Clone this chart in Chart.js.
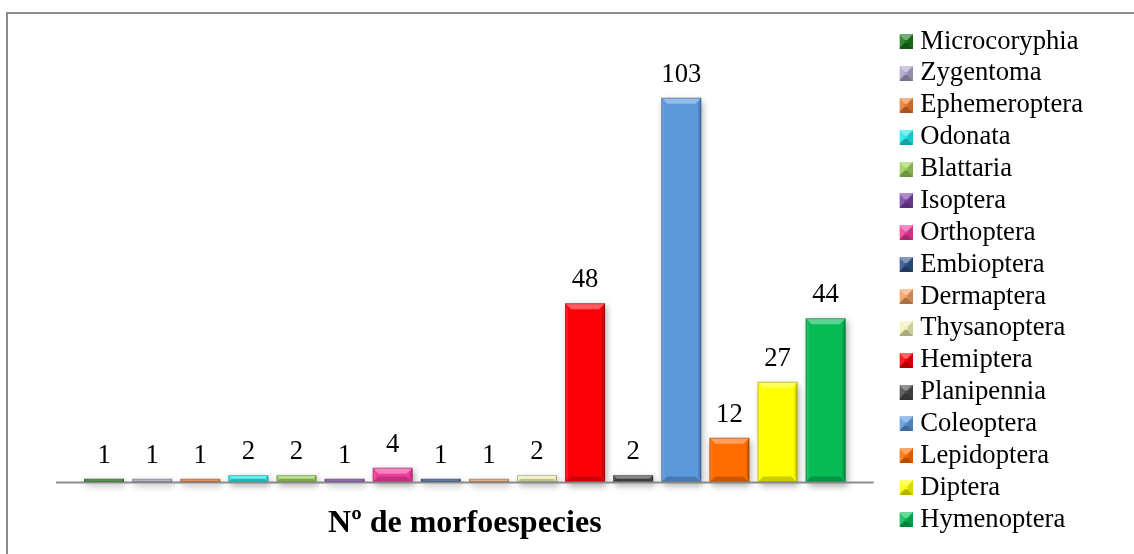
<!DOCTYPE html>
<html lang="es">
<head>
<meta charset="utf-8">
<title>Nº de morfoespecies</title>
<script src="https://cdn.jsdelivr.net/npm/chart.js@4.4.0/dist/chart.umd.min.js"></script>
<style>
  html, body { margin: 0; padding: 0; background: #fff; }
  #marco { position: absolute; left: 6px; top: 12px; width: 1128px; height: 542px; border-top: 2px solid #8c8c8c; border-left: 2px solid #8c8c8c; box-sizing: border-box; }
  #contenedor { position: absolute; left: 0; top: 0; width: 1134px; height: 554px; }
</style>
</head>
<body>
<div id="marco"></div>
<div id="contenedor"><canvas id="myChart"></canvas></div>
<script>
const ordenes = ['Microcoryphia', 'Zygentoma', 'Ephemeroptera', 'Odonata', 'Blattaria', 'Isoptera',
  'Orthoptera', 'Embioptera', 'Dermaptera', 'Thysanoptera', 'Hemiptera', 'Planipennia',
  'Coleoptera', 'Lepidoptera', 'Diptera', 'Hymenoptera'];
const morfoespecies = [1, 1, 1, 2, 2, 1, 4, 1, 1, 2, 48, 2, 103, 12, 27, 44];
const colores = ['#1c781c', '#b0a4c8', '#ec7a30', '#20e8ea', '#9bd05c', '#7a44a8',
  '#f03c9c', '#2f5488', '#f0a060', '#f2f2b4', '#fc0008', '#4a4a4a',
  '#5b98dc', '#ff6c00', '#ffff00', '#06ba55'];
const titulo = 'Nº de morfoespecies';
const yMax = 123;

const fuente = '"Liberation Serif", "Times New Roman", serif';

// mezcla un color hex con otro (t entre 0 y 1)
function mezclar(hex, otro, t) {
  var a = parseInt(hex.slice(1), 16), b = parseInt(otro.slice(1), 16);
  var r = Math.round(((a >> 16) & 255) * (1 - t) + ((b >> 16) & 255) * t);
  var g = Math.round(((a >> 8) & 255) * (1 - t) + ((b >> 8) & 255) * t);
  var bl = Math.round((a & 255) * (1 - t) + (b & 255) * t);
  return 'rgb(' + r + ', ' + g + ', ' + bl + ')';
}

function poligono(ctx, pts, color) {
  ctx.beginPath();
  ctx.moveTo(pts[0][0], pts[0][1]);
  for (var i = 1; i < pts.length; i++) ctx.lineTo(pts[i][0], pts[i][1]);
  ctx.closePath();
  ctx.fillStyle = color;
  ctx.fill();
}

// cuadradito de la leyenda con efecto piramide
function marcador(color) {
  const c = document.createElement('canvas');
  c.width = 15; c.height = 15;
  const g = c.getContext('2d');
  const s = 15, m = 6;
  g.fillStyle = color;
  g.fillRect(0, 0, s, s);
  poligono(g, [[0, 0], [s, 0], [s - m, m], [m, m]], mezclar(color, '#ffffff', 0.4));
  poligono(g, [[0, s], [s, s], [s - m, s - m], [m, s - m]], mezclar(color, '#000000', 0.3));
  poligono(g, [[0, 0], [m, m], [m, s - m], [0, s]], mezclar(color, '#ffffff', 0.12));
  poligono(g, [[s, 0], [s - m, m], [s - m, s - m], [s, s]], mezclar(color, '#000000', 0.15));
  return c;
}
const marcadores = colores.map(marcador);

const pluginBisel = {
  id: 'bisel',
  beforeDatasetsDraw(chart) {
    const ctx = chart.ctx;
    ctx.save();
    ctx.shadowColor = 'rgba(0, 0, 0, 0.35)';
    ctx.shadowBlur = 7;
    ctx.shadowOffsetX = 2;
    ctx.shadowOffsetY = 3;
  },
  afterDatasetsDraw(chart) {
    const ctx = chart.ctx;
    ctx.restore();
    const area = chart.chartArea;
    const y0 = chart.scales.y.getPixelForValue(0);

    const meta = chart.getDatasetMeta(0);
    meta.data.forEach(function (bar, i) {
      const p = bar.getProps(['x', 'y', 'base', 'width'], true);
      const l = p.x - p.width / 2, r = p.x + p.width / 2, t = p.y, bt = p.base;
      const b = Math.min(6, (bt - t) / 2, p.width / 2);
      poligono(ctx, [[l, t], [r, t], [r - b, t + b], [l + b, t + b]], 'rgba(255, 255, 255, 0.35)');
      poligono(ctx, [[l, bt], [r, bt], [r - b, bt - b], [l + b, bt - b]], 'rgba(0, 0, 0, 0.2)');
      poligono(ctx, [[l, t], [l + b * 0.5, t + b], [l + b * 0.5, bt - b], [l, bt]], 'rgba(255, 255, 255, 0.1)');
      poligono(ctx, [[r, t], [r - b * 0.5, t + b], [r - b * 0.5, bt - b], [r, bt]], 'rgba(0, 0, 0, 0.15)');
      ctx.strokeStyle = 'rgba(0, 0, 0, 0.25)';
      ctx.lineWidth = 1;
      ctx.strokeRect(l + 0.5, t + 0.5, p.width - 1, bt - t - 1);

      // etiqueta del valor
      ctx.fillStyle = '#000';
      ctx.font = '26.67px ' + fuente;
      ctx.textAlign = 'center';
      ctx.textBaseline = 'alphabetic';
      ctx.fillText(String(morfoespecies[i]), p.x, t - 16);
    });

    // linea base del eje
    ctx.beginPath();
    ctx.moveTo(area.left - 24, y0);
    ctx.lineTo(area.right + 24, y0);
    ctx.strokeStyle = '#8a8a8a';
    ctx.lineWidth = 2;
    ctx.stroke();
  }
};

new Chart(document.getElementById('myChart'), {
  type: 'bar',
  data: {
    labels: ordenes,
    datasets: [{
      label: titulo,
      data: morfoespecies,
      backgroundColor: colores,
      borderWidth: 0,
      categoryPercentage: 1,
      barPercentage: 0.83,
      clip: false
    }]
  },
  options: {
    responsive: true,
    maintainAspectRatio: false,
    animation: false,
    layout: { padding: { left: 80, top: 23, right: 41, bottom: 0 } },
    scales: {
      x: { display: false },
      y: {
        display: false,
        position: 'right',
        min: 0,
        max: yMax,
        afterFit: function (s) { s.width = 50; }
      }
    },
    plugins: {
      tooltip: { enabled: false },
      title: {
        display: true,
        text: titulo,
        position: 'bottom',
        fullSize: false,
        color: '#000',
        font: { family: fuente, size: 32, weight: 'bold' },
        padding: { top: 22, bottom: 11 }
      },
      legend: {
        position: 'right',
        align: 'start',
        onClick: function () {},
        labels: {
          color: '#000',
          font: { family: fuente, size: 26.67 },
          padding: 5.2,
          usePointStyle: true,
          boxWidth: 2,
          generateLabels: function () {
            return ordenes.map(function (o, i) {
              return { text: o, fillStyle: colores[i], strokeStyle: colores[i], lineWidth: 0,
                pointStyle: marcadores[i], hidden: false, index: i, datasetIndex: 0 };
            });
          }
        }
      }
    }
  },
  plugins: [pluginBisel]
});
</script>
</body>
</html>
